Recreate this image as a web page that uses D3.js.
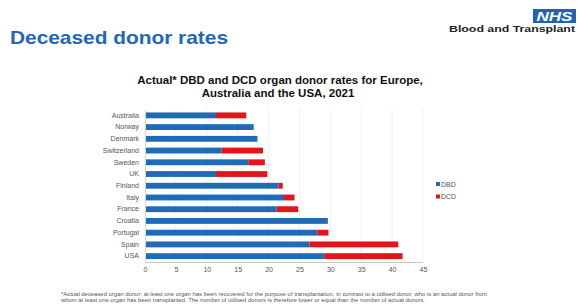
<!DOCTYPE html>
<html><head><meta charset="utf-8">
<script src="https://cdn.jsdelivr.net/npm/d3@7"></script>
<style>body{margin:0;background:#fff;}svg{display:block;}</style>
</head><body>
<script>
const countries = ["Australia","Norway","Denmark","Switzerland","Sweden","UK","Finland","Italy","France","Croatia","Portugal","Spain","USA"];
const dbd = [11.5,17.6,18.2,12.4,16.7,11.5,21.6,22.5,21.3,29.6,27.9,26.6,29.0];
const dcd = [4.9,0,0,6.7,2.7,8.3,0.7,1.7,3.5,0,1.8,14.4,12.7];
const seriesNames = ["DBD","DCD"];
const seriesColors = ["#1f6bb8","#e0161b"];
const xTicks = [0,5,10,15,20,25,30,35,40,45];

const W=578,H=304;
const F="Liberation Sans, Arial, sans-serif";
const svg=d3.select("body").append("svg").attr("width",W).attr("height",H);

// header
svg.append("text").attr("x",10).attr("y",44).attr("font-family",F)
  .attr("font-weight","bold").attr("font-size",18.5).attr("fill","#2267b8")
  .attr("textLength",218).attr("lengthAdjust","spacingAndGlyphs").text("Deceased donor rates");
svg.append("rect").attr("x",533).attr("y",9).attr("width",43).attr("height",14).attr("fill","#1e64b4");
svg.append("text").attr("x",554.5).attr("y",21).attr("text-anchor","middle").attr("font-family",F)
  .attr("font-weight","bold").attr("font-style","italic").attr("font-size",13.5).attr("fill","#fff")
  .attr("textLength",36).attr("lengthAdjust","spacingAndGlyphs").text("NHS");
svg.append("text").attr("x",449).attr("y",32).attr("font-family",F)
  .attr("font-weight","bold").attr("font-size",9).attr("fill","#222")
  .attr("textLength",126).attr("lengthAdjust","spacingAndGlyphs").text("Blood and Transplant");

// chart title
const tt=svg.append("text").attr("text-anchor","middle").attr("font-family",F)
  .attr("font-weight","bold").attr("font-size",11.5).attr("fill","#111");
tt.append("tspan").attr("x",280).attr("y",83.5).text("Actual* DBD and DCD organ donor rates for Europe,");
tt.append("tspan").attr("x",278).attr("y",97).text("Australia and the USA, 2021");

const x=d3.scaleLinear().domain([0,45]).range([145,423]);
const y=d3.scaleBand().domain(countries).range([109.5,262]).paddingInner(0.5).paddingOuter(0.25);

// gridlines
svg.append("g").selectAll("line").data(xTicks.slice(1)).join("line")
  .attr("x1",d=>x(d)).attr("x2",d=>x(d)).attr("y1",109).attr("y2",262)
  .attr("stroke","#ececec").attr("stroke-width",0.8);

// bars
const data=countries.map((c,i)=>({c,v:[dbd[i],dcd[i]]}));
const stack=d3.stack().keys([0,1]).value((d,k)=>d.v[k])(data);
svg.append("g").selectAll("g").data(stack).join("g").attr("fill",(d,i)=>seriesColors[i])
  .selectAll("rect").data(d=>d).join("rect")
  .attr("x",d=>x(d[0])).attr("width",d=>x(d[1])-x(d[0]))
  .attr("y",d=>y(d.data.c)).attr("height",y.bandwidth());

// axes
const xa=svg.append("g").attr("transform","translate(0,262)")
  .call(d3.axisBottom(x).tickValues(xTicks).tickSize(0).tickPadding(5));
xa.select(".domain").attr("stroke","#c8c8c8");
xa.selectAll("text").attr("font-family",F).attr("font-size",7).attr("fill","#555");
const ya=svg.append("g").attr("transform","translate(145,0)")
  .call(d3.axisLeft(y).tickSize(0).tickPadding(6));
ya.select(".domain").attr("stroke","#d8d8d8");
ya.selectAll("text").attr("font-family",F).attr("font-size",7).attr("fill","#555");

// legend
const lg=svg.append("g").selectAll("g").data(seriesNames).join("g")
  .attr("transform",(d,i)=>`translate(438,${184+i*12.5})`);
lg.append("rect").attr("x",-2).attr("y",-2).attr("width",4).attr("height",4).attr("fill",(d,i)=>seriesColors[i]);
lg.append("text").attr("x",3).attr("y",2.5).attr("font-family",F)
  .attr("font-size",7).attr("fill","#555").text(d=>d);

// footnote
const fn=svg.append("g").attr("font-family",F).attr("font-size",4.5).attr("fill","#555");
fn.append("text").attr("x",61).attr("y",296).attr("textLength",426).attr("lengthAdjust","spacingAndGlyphs")
  .text("*Actual deceased organ donor: at least one organ has been recovered for the purpose of transplantation, in contrast to a utilised donor, who is an actual donor from");
fn.append("text").attr("x",61).attr("y",302).attr("textLength",364).attr("lengthAdjust","spacingAndGlyphs")
  .text("whom at least one organ has been transplanted. The number of utilised donors is therefore lower or equal than the number of actual donors.");
</script>
</body></html>
